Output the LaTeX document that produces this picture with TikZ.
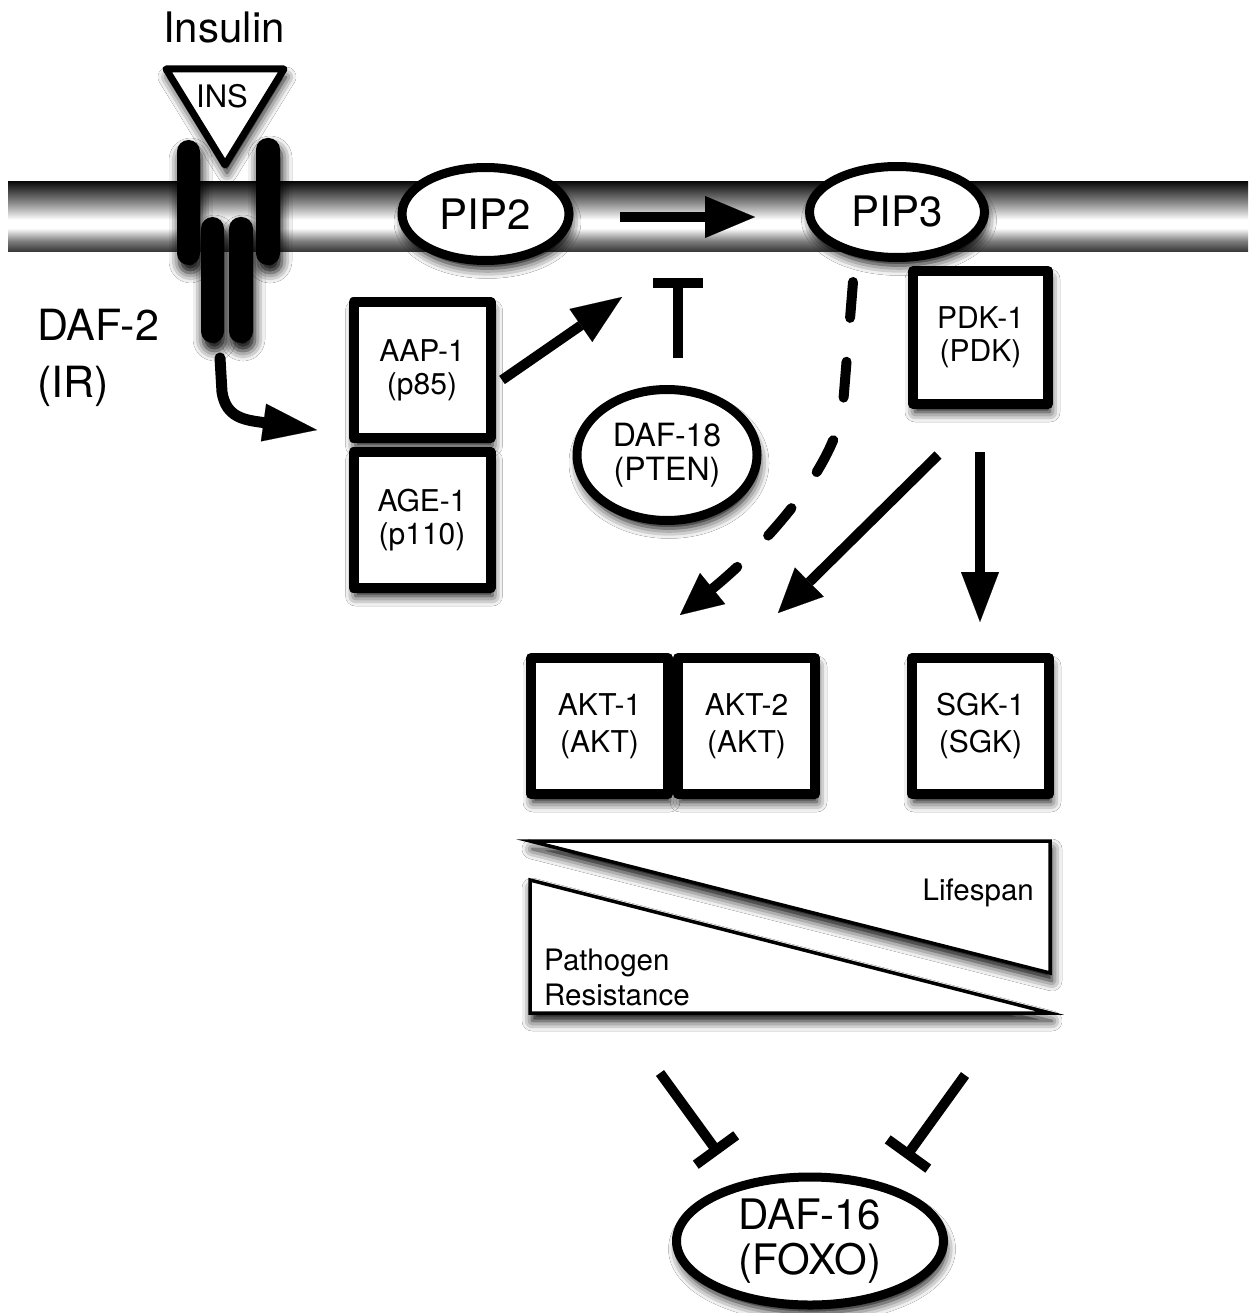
\documentclass[tikz,border=0pt]{standalone}
\usepackage{fontspec}
\setmainfont{TeX Gyre Heros}
\usetikzlibrary{arrows.meta,shapes.geometric,shadows.blur,calc}

% cross-section of the membrane: dark rims, light core slightly below the middle
\pgfdeclareverticalshading{membrane}{100bp}{%
  color(0bp)=(black!80); color(25bp)=(black!80); color(33bp)=(black!50);
  color(42bp)=(white); color(48bp)=(white); color(60bp)=(black!45);
  color(75bp)=(black!95); color(100bp)=(black!95)}

\tikzset{
  head/.style={-{Triangle[#1,fill=black,line width=0.1pt]}},
  shad/.style={blur shadow={shadow xshift=2pt,shadow yshift=-8pt,
      shadow blur radius=10pt,shadow opacity=100}},
  gene/.style={draw,line width=10pt,fill=white,line join=round,
      minimum width=137pt,minimum height=136pt,align=center,
      font=\fontsize{30}{33}\selectfont,shad},
  genewide/.style={gene,font=\fontsize{30}{37}\selectfont},
  lipid/.style={ellipse,draw,line width=9pt,fill=white,shad},
  bigtext/.style={font=\fontsize{42}{50}\selectfont},
  smalltext/.style={font=\fontsize{29.5}{35}\selectfont},
  act/.style={line width=10pt,draw=black},
  inhib/.style={line width=10pt},
  subunit/.style={fill=black,rounded corners=11.5pt,shad},
  wedge/.style={fill=white,draw,line width=3.5pt,line join=miter,shad}
}

\begin{document}
\begin{tikzpicture}[x=1pt,y=-1pt,every node/.style={inner sep=0pt}]
\useasboundingbox (0,0) rectangle (1255,1313);
\fill[white] (0,0) rectangle (1255,1313);

% plasma membrane
\shade[shading=membrane] (8,182) rectangle (1248,252);

% DAF-2 receptor subunits
\fill[subunit] (177,140) rectangle (200,265);
\fill[subunit] (256,138) rectangle (280,265);
\fill[subunit] (201,217) rectangle (224,343);
\fill[subunit] (229,217) rectangle (253,343);
\coordinate (rcpt) at (220,358);

% insulin ligand
\filldraw[fill=white,line width=7pt,line join=round,shad]
  (166,69) -- (284,69) -- (225,165) -- cycle;
\node[font=\fontsize{31}{36}\selectfont,anchor=base] (ins) at (222,108) {INS};
\node[bigtext,anchor=base] (insulin) at (224,43) {Insulin};

\node[font=\fontsize{43}{50}\selectfont,anchor=base west] (daf2) at (37,340) {DAF-2};
\node[font=\fontsize{43}{50}\selectfont,anchor=base west] (ir) at (37,397) {(IR)};

% phosphoinositides
\node[lipid,minimum width=167pt,minimum height=93pt,bigtext] (pip2) at (485.5,214) {PIP2};
\node[lipid,minimum width=175pt,minimum height=91pt,bigtext] (pip3) at (897,212) {PIP3};

% kinases and phosphatase
\node[gene] (aap) at (422,370) {AAP-1\\(p85)};
\node[gene] (age) at (422,520) {AGE-1\\(p110)};
\node[gene,minimum width=135pt,minimum height=133pt] (pdk) at (980.5,337.5) {PDK-1\\(PDK)};
\node[lipid,minimum width=180pt,minimum height=131pt,
      font=\fontsize{32}{34}\selectfont,align=center] (daf18) at (667,455) {DAF-18\\(PTEN)};
\node[genewide] (akt1) at (599.5,726) {AKT-1\\(AKT)};
\node[genewide] (akt2) at (746.5,726) {AKT-2\\(AKT)};
\node[genewide] (sgk) at (980.5,726) {SGK-1\\(SGK)};

% lifespan / pathogen resistance wedges
\path[wedge] (530,841) -- (1050,841) -- (1050,973) -- cycle;
\path[wedge] (530,880) -- (530,1013) -- (1050,1013) -- cycle;
\node[smalltext,anchor=base east] (life) at (1034,900) {Lifespan};
\node[smalltext,anchor=base west] (path1) at (544,970) {Pathogen};
\node[smalltext,anchor=base west] (path2) at (544,1005) {Resistance};

% DAF-16 transcription factor
\node[lipid,minimum width=267pt,minimum height=128pt,
      font=\fontsize{42}{45}\selectfont,align=center] (daf16) at (810,1241) {DAF-16\\(FOXO)};

% connector end points
\coordinate (aapT) at (317,430);
\coordinate (pipS) at (620,217);
\coordinate (pipE) at (755,217);
\coordinate (aapS) at (502,380);
\coordinate (aapE) at (622,297);
\coordinate (ptS) at (678,358);
\coordinate (ptE) at (678,283);
\coordinate (ptL) at (653,283);
\coordinate (ptR) at (703,283);
\coordinate (dS) at (853,282);
\coordinate (dM) at (843,405);
\coordinate (dE) at (680,615);
\coordinate (pkA) at (938,455);
\coordinate (pkAE) at (778,613);
\coordinate (pkS) at (980,452);
\coordinate (pkSE) at (980,622);
\coordinate (fl1) at (660,1073);
\coordinate (fl2) at (716,1150);
\coordinate (fr1) at (965,1075);
\coordinate (fr2) at (908,1154);

% signalling connectors
\begin{scope}[fill opacity=1,draw opacity=1,black]
\draw[act,line width=11pt,line cap=round,head={length=54pt,width=38pt}]
  (rcpt) -- (222,392) .. controls (226,418) and (245,420) .. (aapT);
\draw[act,head={length=50pt,width=42pt}] (pipS) -- (pipE);
\draw[act,head={length=50pt,width=40pt}] (aapS) -- (aapE);
\draw[inhib] (ptS) -- (ptE) (ptL) -- (ptR);
\draw[act,line cap=round,dash pattern=on 36pt off 44pt,head={length=42pt,width=40pt}]
  (dS) -- (dM) .. controls (835,470) and (760,550) .. (dE);
\draw[act,head={length=44pt,width=41pt}] (pkA) -- (pkAE);
\draw[act,head={length=50pt,width=38pt}] (pkS) -- (pkSE);
\draw[inhib] (fl1) -- (fl2) ($(fl2)!25pt!90:(fl1)$) -- ($(fl2)!25pt!-90:(fl1)$);
\draw[inhib] (fr1) -- (fr2) ($(fr2)!25pt!90:(fr1)$) -- ($(fr2)!25pt!-90:(fr1)$);
\end{scope}
\end{tikzpicture}
\end{document}
